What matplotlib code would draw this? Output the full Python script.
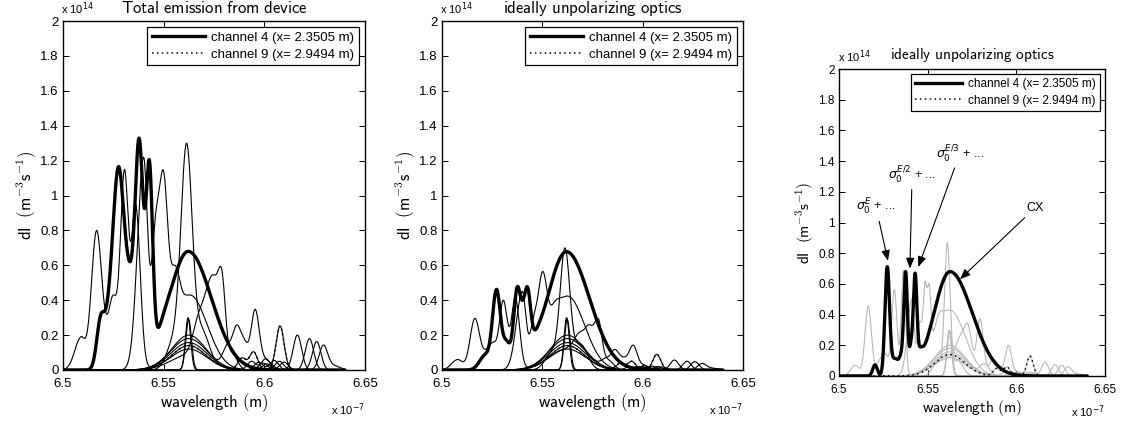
import numpy as np
import matplotlib
matplotlib.use("Agg")
import matplotlib.pyplot as plt
from matplotlib.lines import Line2D

plt.rcParams["mathtext.fontset"] = "cm"
plt.rcParams["font.family"] = ["Liberation Sans", "DejaVu Sans"]

# wavelength in units of 1e-7 m, intensity in units of 1e14 m^-3 s^-1
x_ticks = [6.5, 6.55, 6.6, 6.65]
x_tick_labels = ["6.5", "6.55", "6.6", "6.65"]
y_ticks = [0, 0.2, 0.4, 0.6, 0.8, 1.0, 1.2, 1.4, 1.6, 1.8, 2.0]
y_tick_labels = ["0", "0.2", "0.4", "0.6", "0.8", "1", "1.2", "1.4", "1.6", "1.8", "2"]

legend_labels = ["channel 4 (x= 2.3505 m)", "channel 9 (x= 2.9494 m)"]
titles = ["Total emission from device", "ideally unpolarizing optics", "ideally unpolarizing optics"]

# spectral features: (centre, height, width left[, width right])
# --- panel 1: total emission
p1_ch4 = [(6.5188, 0.32, 0.0020), (6.5228, 0.48, 0.0020), (6.5275, 1.165, 0.0028),
          (6.5333, 0.62, 0.0025), (6.5379, 1.33, 0.0020), (6.5412, 0.965, 0.0012),
          (6.5429, 1.21, 0.0016), (6.5497, 0.315, 0.0030), (6.5622, 0.68, 0.0095, 0.0115)]
p1_ch9 = [(6.5625, 0.14, 0.0085), (6.5889, 0.07, 0.0020), (6.5946, 0.105, 0.0020),
          (6.6078, 0.252, 0.0020)]
p1_a = [(6.5088, 0.19, 0.0030, 0.0022), (6.5167, 0.80, 0.0026), (6.5220, 0.32, 0.0020),
        (6.5250, 0.43, 0.0020), (6.5305, 1.15, 0.0020), (6.5338, 0.74, 0.0015),
        (6.5362, 0.95, 0.0018, 0.0022), (6.5625, 0.12, 0.0090)]
p1_b = [(6.5400, 1.22, 0.0030, 0.0020), (6.5457, 0.86, 0.0018), (6.5498, 1.146, 0.0022),
        (6.5556, 0.60, 0.0022), (6.5631, 0.43, 0.0085)]
p1_c = [(6.5550, 0.25, 0.0035), (6.5614, 1.30, 0.0028), (6.5690, 0.25, 0.0035),
        (6.5760, 0.05, 0.0050)]
p1_d = [(6.5625, 0.13, 0.0090), (6.5680, 0.35, 0.0030), (6.5722, 0.50, 0.0022),
        (6.5750, 0.545, 0.0020), (6.5788, 0.58, 0.0020, 0.0018), (6.5840, 0.10, 0.0025)]
p1_e = [(6.5625, 0.20, 0.0085), (6.5816, 0.15, 0.0022), (6.5862, 0.258, 0.0020),
        (6.5900, 0.18, 0.0020), (6.5954, 0.348, 0.0020), (6.6005, 0.07, 0.0030)]
p1_f = [(6.5625, 0.18, 0.0090), (6.5937, 0.05, 0.0021), (6.6007, 0.065, 0.0021),
        (6.6164, 0.20, 0.0021)]
p1_g = [(6.5625, 0.157, 0.0090), (6.5972, 0.045, 0.0021), (6.6049, 0.055, 0.0021),
        (6.6224, 0.18, 0.0021)]
p1_h = [(6.5621, 0.30, 0.0013), (6.5993, 0.04, 0.0021), (6.6075, 0.05, 0.0021),
        (6.6260, 0.163, 0.0021)]
p1_i = [(6.5624, 0.29, 0.0014), (6.6012, 0.035, 0.0021), (6.6098, 0.045, 0.0021),
        (6.6293, 0.143, 0.0021), (6.6345, 0.03, 0.0030)]

# --- panel 2: ideally unpolarizing optics
p2_ch4 = [(6.5215, 0.09, 0.0028), (6.5272, 0.462, 0.0020), (6.5322, 0.17, 0.0018),
          (6.5375, 0.477, 0.0018), (6.5402, 0.40, 0.0012), (6.5425, 0.477, 0.0016),
          (6.5463, 0.23, 0.0028), (6.5620, 0.678, 0.0095, 0.0115)]
p2_ch9 = [(6.5625, 0.14, 0.0085), (6.5889, 0.04, 0.0020), (6.5946, 0.05, 0.0020),
          (6.6070, 0.09, 0.0020)]
p2_a = [(6.5078, 0.06, 0.0030, 0.0025), (6.5164, 0.296, 0.0024), (6.5220, 0.12, 0.0020),
        (6.5255, 0.16, 0.0020), (6.5305, 0.40, 0.0019), (6.5334, 0.25, 0.0015),
        (6.5365, 0.42, 0.0017, 0.0021), (6.5625, 0.12, 0.0090)]
p2_b = [(6.5400, 0.45, 0.0030, 0.0018), (6.5455, 0.30, 0.0018), (6.5500, 0.563, 0.0022),
        (6.5560, 0.39, 0.0022), (6.5626, 0.424, 0.0085)]
p2_c = [(6.5550, 0.12, 0.0035), (6.5613, 0.70, 0.0024), (6.5690, 0.15, 0.0035)]
p2_d = [(6.5625, 0.13, 0.0090), (6.5690, 0.22, 0.0028), (6.5735, 0.26, 0.0020),
        (6.5779, 0.294, 0.0020, 0.0018), (6.5830, 0.06, 0.0025)]
p2_e = [(6.5625, 0.20, 0.0085), (6.5816, 0.07, 0.0022), (6.5862, 0.118, 0.0020),
        (6.5905, 0.075, 0.0020), (6.5952, 0.143, 0.0020), (6.6005, 0.03, 0.0030)]
p2_f = [(6.5625, 0.18, 0.0090), (6.5937, 0.02, 0.0021), (6.6007, 0.025, 0.0021),
        (6.6158, 0.057, 0.0021)]
p2_g = [(6.5625, 0.157, 0.0090), (6.5972, 0.02, 0.0021), (6.6049, 0.022, 0.0021),
        (6.6221, 0.05, 0.0021)]
p2_h = [(6.5621, 0.30, 0.0013), (6.5993, 0.018, 0.0021), (6.6075, 0.02, 0.0021),
        (6.6260, 0.048, 0.0021)]
p2_i = [(6.5624, 0.29, 0.0014), (6.6012, 0.015, 0.0021), (6.6098, 0.018, 0.0021),
        (6.6295, 0.038, 0.0021), (6.6345, 0.012, 0.0030)]

# --- panel 3: ideally unpolarizing optics, annotated
p3_ch4 = [(6.5203, 0.072, 0.0013), (6.5272, 0.712, 0.0013), (6.5316, 0.115, 0.0020),
          (6.5354, 0.19, 0.0013), (6.5376, 0.68, 0.0010), (6.5406, 0.235, 0.0009),
          (6.5429, 0.67, 0.0010), (6.5457, 0.19, 0.0014), (6.5626, 0.68, 0.0090, 0.0125)]
p3_ch9 = [(6.5625, 0.14, 0.0085), (6.5889, 0.05, 0.0019), (6.5946, 0.06, 0.0019),
          (6.6077, 0.13, 0.0018)]
p3_a = [(6.5090, 0.07, 0.0024), (6.5165, 0.456, 0.0018), (6.5225, 0.10, 0.0018),
        (6.5260, 0.15, 0.0018), (6.5312, 0.565, 0.0015), (6.5340, 0.20, 0.0012),
        (6.5363, 0.69, 0.0012), (6.5625, 0.12, 0.0090)]
p3_b = [(6.5410, 0.50, 0.0024, 0.0013), (6.5455, 0.35, 0.0014), (6.5485, 0.614, 0.0010),
        (6.5508, 0.60, 0.0010), (6.5560, 0.40, 0.0022), (6.5626, 0.43, 0.0085)]
p3_c = [(6.5560, 0.10, 0.0030), (6.5611, 0.87, 0.0015), (6.5670, 0.10, 0.0030)]
p3_d = [(6.5625, 0.13, 0.0090), (6.5690, 0.28, 0.0028), (6.5730, 0.33, 0.0020),
        (6.5795, 0.373, 0.0018), (6.5840, 0.06, 0.0022)]
p3_e = [(6.5625, 0.20, 0.0085), (6.5816, 0.08, 0.0020), (6.5870, 0.11, 0.0019),
        (6.5910, 0.06, 0.0017), (6.5955, 0.20, 0.0017), (6.6005, 0.03, 0.0030)]
p3_f = [(6.5625, 0.18, 0.0090), (6.5937, 0.025, 0.0020), (6.6007, 0.03, 0.0020),
        (6.6162, 0.09, 0.0020)]
p3_g = [(6.5625, 0.157, 0.0090), (6.5972, 0.025, 0.0020), (6.6049, 0.028, 0.0020),
        (6.6218, 0.074, 0.0020)]
p3_h = [(6.5621, 0.30, 0.0013), (6.5993, 0.02, 0.0020), (6.6075, 0.025, 0.0020),
        (6.6256, 0.07, 0.0020)]
p3_i = [(6.5624, 0.29, 0.0014), (6.6012, 0.02, 0.0020), (6.6098, 0.022, 0.0020),
        (6.6290, 0.06, 0.0020), (6.6345, 0.015, 0.0030)]

wl = np.linspace(6.50, 6.64, 2801)


def spectrum(peaks):
    c = np.array([p[0] for p in peaks])
    h = np.array([p[1] for p in peaks])
    sl = np.array([p[2] for p in peaks])
    sr = np.array([p[-1] for p in peaks])

    def basis(x):
        d = x[:, None] - c[None, :]
        s = np.where(d < 0, sl, sr)
        return np.exp(-0.5 * (d / s) ** 2)

    # non-negative amplitudes so the curve passes near the read heights
    m = basis(c)
    amp = h.copy()
    mth = m.T @ h
    mtm = m.T @ m
    for _ in range(4000):
        amp *= mth / (mtm @ amp + 1e-12)
    return basis(wl) @ amp


def style(ax, fs):
    ax.set_xlim(6.5, 6.65)
    ax.set_ylim(0, 2)
    ax.set_xticks(x_ticks)
    ax.set_xticklabels(x_tick_labels)
    ax.set_yticks(y_ticks)
    ax.set_yticklabels(y_tick_labels)
    ax.tick_params(direction="in", top=True, right=True, length=4, width=0.7,
                   labelsize=fs, pad=3)
    ax.tick_params(axis="x", pad=6)
    for s in ax.spines.values():
        s.set_linewidth(1.0)


fig = plt.figure(figsize=(11.28, 4.25), dpi=100)
ax1 = fig.add_axes([63 / 1128, 1 - 370 / 425, 302 / 1128, 349 / 425])
ax2 = fig.add_axes([442 / 1128, 1 - 370 / 425, 301 / 1128, 349 / 425])
ax3 = fig.add_axes([839 / 1128, 1 - 376 / 425, 266 / 1128, 307 / 425])

panels = [
    (ax1, [p1_a, p1_b, p1_c, p1_d, p1_e, p1_f, p1_g, p1_h, p1_i], p1_ch4, p1_ch9, "k", 9.5, 9.5, 5.5),
    (ax2, [p2_a, p2_b, p2_c, p2_d, p2_e, p2_f, p2_g, p2_h, p2_i], p2_ch4, p2_ch9, "k", 9.5, 9.5, 5.5),
    (ax3, [p3_a, p3_b, p3_c, p3_d, p3_e, p3_f, p3_g, p3_h, p3_i], p3_ch4, p3_ch9, "#b8b8b8", 8.5, 8.5, 7.0),
]

for k, (ax, thin, ch4, ch9, thin_col, fs, lfs, tpad) in enumerate(panels):
    for pk in thin:
        ax.plot(wl, spectrum(pk), color=thin_col, lw=0.8)
    ax.plot(wl, spectrum(ch9), color=thin_col, lw=0.8)
    ax.plot(wl, spectrum(ch4), color="k", lw=2.4, solid_capstyle="round")
    ax.plot(wl, spectrum(ch9), color="k", lw=1.1, ls=(0, (1, 2.2)))
    style(ax, fs)
    big = fs + 2.5
    ax.set_title(r"$\mathsf{" + titles[k].replace(" ", r"\ ") + "}$", fontsize=big, pad=tpad)
    ax.set_xlabel(r"$\mathsf{wavelength\ (m)}$", fontsize=big, labelpad=1)
    ax.set_ylabel(r"$\mathsf{dI\ \ (m^{-3}s^{-1})}$", fontsize=big, labelpad=2)
    ax.text(-0.005, 1.012, r"x 10$^{14}$", transform=ax.transAxes, ha="left",
            va="bottom", fontsize=8, math_fontfamily="dejavusans")
    ax.text(1.0, -0.09, r"x 10$^{-7}$", transform=ax.transAxes, ha="right",
            va="top", fontsize=8, math_fontfamily="dejavusans")
    handles = [Line2D([], [], color="k", lw=2.4),
               Line2D([], [], color="k", lw=1.1, ls=(0, (1, 2.2)))]
    ax.legend(handles, legend_labels, loc="upper right", fontsize=lfs, fancybox=False,
              edgecolor="k", framealpha=1, handlelength=4.0, handletextpad=0.5,
              borderaxespad=0.45, borderpad=0.35, labelspacing=0.35).get_frame().set_linewidth(0.9)

arrow = dict(arrowstyle="-|>,head_length=0.7,head_width=0.28", color="k", lw=0.8,
             shrinkA=1, shrinkB=0)
for label, tip, txt in [(r"$\sigma_0^{E}$ + ...", (6.5276, 0.75), (6.5209, 1.10)),
                        (r"$\sigma_0^{E/2}$ + ...", (6.5400, 0.70), (6.5412, 1.31)),
                        (r"$\sigma_0^{E/3}$ + ...", (6.5447, 0.71), (6.5682, 1.45)),
                        ("CX", (6.5682, 0.63), (6.6105, 1.095))]:
    ax3.annotate(label, xy=tip, xytext=txt, ha="center", va="center", fontsize=9,
                 math_fontfamily="dejavusans", arrowprops=arrow)

fig.savefig("out.png", dpi=100)
